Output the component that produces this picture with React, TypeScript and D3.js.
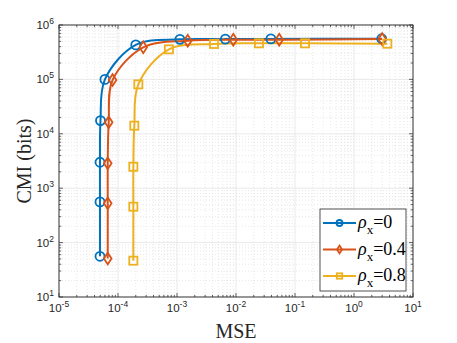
import React, { useEffect, useRef } from "react";
import * as d3 from "d3";

const mse0 = [4.95e-5, 4.95e-5, 4.95e-5, 5.05e-5, 6.0e-5, 2.0e-4, 1.12e-3, 6.6e-3, 0.039, 2.95];
const cmi0 = [56, 560, 3000, 17500, 1.0e5, 4.3e5, 5.45e5, 5.5e5, 5.55e5, 5.6e5];
const mse4 = [6.7e-5, 6.7e-5, 6.7e-5, 6.96e-5, 8.1e-5, 2.68e-4, 1.52e-3, 9.0e-3, 0.054, 3.0];
const cmi4 = [51, 527, 2870, 16300, 9.75e4, 3.89e5, 5.14e5, 5.37e5, 5.37e5, 5.5e5];
const mse8 = [1.82e-4, 1.82e-4, 1.82e-4, 1.89e-4, 2.21e-4, 7.3e-4, 4.24e-3, 0.0245, 0.148, 3.67];
const cmi8 = [46.5, 457, 2480, 14100, 8.1e4, 3.57e5, 4.48e5, 4.6e5, 4.6e5, 4.53e5];

const seriesNames = ["0", "0.4", "0.8"];
const colors = ["#0072BD", "#D95319", "#EDB120"];
const markers = ["circle", "diamond", "square"];

const xExps = [-5, -4, -3, -2, -1, 0, 1];
const yExps = [1, 2, 3, 4, 5, 6];

const W = 457;
const H = 343;
const margin = { top: 25, right: 44, bottom: 46, left: 59 };

const App = () => {
  const svgRef = useRef(null);

  useEffect(() => {
    const svg = d3.select(svgRef.current);
    svg.selectAll("*").remove();

    const width = W - margin.left - margin.right;
    const height = H - margin.top - margin.bottom;
    const axisColor = "#262626";

    const x = d3.scaleLog().domain([1e-5, 1e1]).range([0, width]);
    const y = d3.scaleLog().domain([1e1, 1e6]).range([height, 0]);

    const g = svg.append("g").attr("transform", `translate(${margin.left},${margin.top})`);

    g.append("rect").attr("width", width).attr("height", height).attr("fill", "#fff");

    // minor values
    const minorX = [];
    xExps.slice(0, -1).forEach((e) => {
      for (let k = 2; k <= 9; k++) minorX.push(k * Math.pow(10, e));
    });
    const minorY = [];
    yExps.slice(0, -1).forEach((e) => {
      for (let k = 2; k <= 9; k++) minorY.push(k * Math.pow(10, e));
    });
    const majorX = xExps.map((e) => Math.pow(10, e));
    const majorY = yExps.map((e) => Math.pow(10, e));

    // grid
    const grid = g.append("g");
    minorX.forEach((v) => {
      grid.append("line").attr("x1", x(v)).attr("x2", x(v)).attr("y1", 0).attr("y2", height)
        .attr("stroke", "#d9d9d9").attr("stroke-width", 0.6).attr("stroke-dasharray", "1,2");
    });
    minorY.forEach((v) => {
      grid.append("line").attr("x1", 0).attr("x2", width).attr("y1", y(v)).attr("y2", y(v))
        .attr("stroke", "#d9d9d9").attr("stroke-width", 0.6).attr("stroke-dasharray", "1,2");
    });
    majorX.forEach((v) => {
      grid.append("line").attr("x1", x(v)).attr("x2", x(v)).attr("y1", 0).attr("y2", height)
        .attr("stroke", "#e3e3e3").attr("stroke-width", 0.8);
    });
    majorY.forEach((v) => {
      grid.append("line").attr("x1", 0).attr("x2", width).attr("y1", y(v)).attr("y2", y(v))
        .attr("stroke", "#e3e3e3").attr("stroke-width", 0.8);
    });

    // series
    const data = [
      mse0.map((m, i) => [m, cmi0[i]]),
      mse4.map((m, i) => [m, cmi4[i]]),
      mse8.map((m, i) => [m, cmi8[i]]),
    ];

    const line = d3.line()
      .x((d) => x(d[0]))
      .y((d) => y(d[1]))
      .curve(d3.curveCatmullRom.alpha(0.5));

    const drawMarker = (sel, type, cx, cy, r, color) => {
      if (type === "circle") {
        sel.append("circle").attr("cx", cx).attr("cy", cy).attr("r", r)
          .attr("fill", "none").attr("stroke", color).attr("stroke-width", 1.8);
      } else if (type === "diamond") {
        const s = r * 1.3;
        sel.append("path")
          .attr("d", `M${cx},${cy - s}L${cx + s * 0.65},${cy}L${cx},${cy + s}L${cx - s * 0.65},${cy}Z`)
          .attr("fill", "none").attr("stroke", color).attr("stroke-width", 1.8);
      } else {
        const s = r * 0.9;
        sel.append("rect").attr("x", cx - s).attr("y", cy - s).attr("width", 2 * s).attr("height", 2 * s)
          .attr("fill", "none").attr("stroke", color).attr("stroke-width", 1.8);
      }
    };

    data.forEach((pts, i) => {
      g.append("path").datum(pts).attr("d", line).attr("fill", "none")
        .attr("stroke", colors[i]).attr("stroke-width", 2);
    });
    data.forEach((pts, i) => {
      const mg = g.append("g");
      pts.forEach((d) => drawMarker(mg, markers[i], x(d[0]), y(d[1]), 4.5, colors[i]));
    });

    // box & ticks
    const ax = g.append("g");
    ax.append("rect").attr("width", width).attr("height", height).attr("fill", "none")
      .attr("stroke", axisColor).attr("stroke-width", 0.9);
    const tick = (x1, y1, x2, y2) =>
      ax.append("line").attr("x1", x1).attr("y1", y1).attr("x2", x2).attr("y2", y2)
        .attr("stroke", axisColor).attr("stroke-width", 0.7);
    majorX.forEach((v) => {
      tick(x(v), height, x(v), height - 4);
      tick(x(v), 0, x(v), 4);
    });
    minorX.forEach((v) => {
      tick(x(v), height, x(v), height - 2.2);
      tick(x(v), 0, x(v), 2.2);
    });
    majorY.forEach((v) => {
      tick(0, y(v), 4, y(v));
      tick(width, y(v), width - 4, y(v));
    });
    minorY.forEach((v) => {
      tick(0, y(v), 2.2, y(v));
      tick(width, y(v), width - 2.2, y(v));
    });

    // tick labels
    const tickFont = "'Liberation Sans', Arial, sans-serif";
    xExps.forEach((e) => {
      const t = g.append("text").attr("x", x(Math.pow(10, e))).attr("y", height + 15)
        .attr("text-anchor", "middle").attr("font-family", tickFont).attr("font-size", 11.5)
        .attr("fill", axisColor);
      t.append("tspan").text("10");
      t.append("tspan").attr("dy", -5).attr("font-size", 8.5).text(String(e));
    });
    yExps.forEach((e) => {
      const t = g.append("text").attr("x", -5).attr("y", y(Math.pow(10, e)) + 4)
        .attr("text-anchor", "end").attr("font-family", tickFont).attr("font-size", 11.5)
        .attr("fill", axisColor);
      t.append("tspan").text("10");
      t.append("tspan").attr("dy", -5).attr("font-size", 8.5).text(String(e));
    });

    // axis labels
    const labelFont = "'Liberation Serif', 'Times New Roman', serif";
    svg.append("text").attr("x", margin.left + width / 2).attr("y", 338)
      .attr("text-anchor", "middle").attr("font-family", labelFont).attr("font-size", 20)
      .attr("fill", axisColor).text("MSE");
    svg.append("text")
      .attr("transform", `translate(31,${margin.top + height / 2}) rotate(-90)`)
      .attr("text-anchor", "middle").attr("font-family", labelFont).attr("font-size", 20)
      .attr("fill", axisColor).text("CMI (bits)");

    // legend
    const lg = svg.append("g").attr("transform", "translate(320,209)");
    lg.append("rect").attr("width", 86).attr("height", 82).attr("fill", "#fff")
      .attr("stroke", axisColor).attr("stroke-width", 0.8);
    seriesNames.forEach((name, i) => {
      const cy = 14 + i * 26.5;
      lg.append("line").attr("x1", 3).attr("x2", 36).attr("y1", cy).attr("y2", cy)
        .attr("stroke", colors[i]).attr("stroke-width", 2);
      drawMarker(lg, markers[i], 19.5, cy, 3, colors[i]);
      const t = lg.append("text").attr("x", 38).attr("y", cy + 5)
        .attr("font-family", labelFont).attr("font-size", 18).attr("fill", "#000");
      t.append("tspan").attr("font-style", "italic").text("ρ");
      t.append("tspan").attr("dy", 6).attr("font-size", 13).text("x");
      t.append("tspan").attr("dy", -6).text("=" + name);
    });
  }, []);

  return (
    <svg ref={svgRef} width={W} height={H} style={{ position: "absolute", left: 0, top: 0, background: "#fff" }} />
  );
};

export default App;
